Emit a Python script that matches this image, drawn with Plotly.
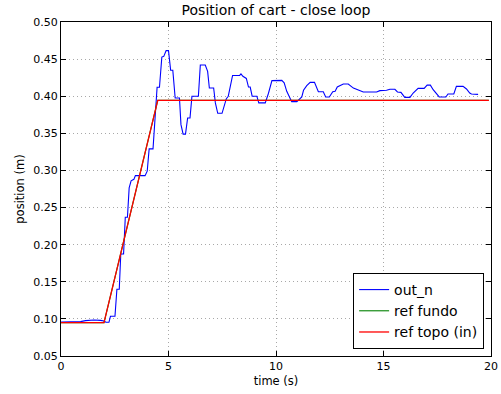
import plotly.graph_objects as go

# measured cart position (out_n)
time_out = [0.0, 0.91, 1.14, 1.53, 1.84, 2.0, 2.09, 2.23, 2.30, 2.51, 2.60, 2.71, 2.78, 2.91,
            2.99, 3.09, 3.17, 3.26, 3.39, 3.46, 3.91, 4.01, 4.10, 4.28, 4.47, 4.58, 4.69, 4.78,
            4.89, 5.0, 5.10, 5.20, 5.31, 5.51, 5.58, 5.68, 5.79, 5.89, 6.0, 6.09, 6.39, 6.48,
            6.71, 6.82, 6.90, 7.10, 7.18, 7.29, 7.49, 7.59, 7.69, 7.78, 7.98, 8.31, 8.37, 8.46,
            8.62, 8.72, 8.80, 8.89, 9.11, 9.20, 9.50, 9.65, 9.81, 10.27, 10.38, 10.50, 10.66,
            10.73, 10.97, 11.2, 11.28, 11.43, 11.59, 11.79, 11.97, 12.20, 12.31, 12.48, 12.64,
            12.75, 12.85, 13.13, 13.36, 13.60, 13.83, 14.06, 14.68, 14.83, 15.14, 15.30, 15.53,
            15.65, 15.81, 15.99, 16.23, 16.38, 16.61, 16.89, 17.03, 17.18, 17.31, 17.46, 17.59,
            17.90, 18.0, 18.27, 18.39, 18.70, 18.86, 19.01, 19.09, 19.40]
pos_out = [0.0958, 0.0963, 0.0976, 0.0985, 0.098, 0.0972, 0.0954, 0.0954, 0.1035, 0.1035,
           0.140, 0.140, 0.1874, 0.1874, 0.237, 0.237, 0.2764, 0.286, 0.288, 0.293, 0.293,
           0.299, 0.329, 0.329, 0.412, 0.412, 0.4528, 0.4537, 0.4614, 0.4614, 0.435, 0.435,
           0.3976, 0.3976, 0.3617, 0.349, 0.349, 0.3707, 0.3707, 0.400, 0.400, 0.442, 0.442,
           0.4335, 0.411, 0.411, 0.391, 0.377, 0.377, 0.386, 0.3967, 0.400, 0.428, 0.428,
           0.430, 0.4268, 0.424, 0.4124, 0.4124, 0.400, 0.400, 0.391, 0.391, 0.404, 0.421,
           0.4214, 0.418, 0.4066, 0.3954, 0.3927, 0.3927, 0.399, 0.408, 0.4142, 0.4187,
           0.4187, 0.4061, 0.4061, 0.399, 0.399, 0.4061, 0.4066, 0.4124, 0.4165, 0.4165,
           0.411, 0.4084, 0.4057, 0.4057, 0.4075, 0.408, 0.4093, 0.4093, 0.4057, 0.4052,
           0.3985, 0.3985, 0.4043, 0.4106, 0.4106, 0.415, 0.415, 0.4088, 0.4043, 0.399,
           0.399, 0.403, 0.403, 0.4133, 0.4133, 0.4097, 0.4043, 0.403, 0.4025]

# top reference (input ramp)
time_ref_topo = [0.0, 2.0, 4.5, 19.9]
pos_ref_topo = [0.095, 0.095, 0.3945, 0.3945]

# bottom reference (same path, drawn beneath the top reference)
time_ref_fundo = [0.0, 2.0, 4.5, 19.9]
pos_ref_fundo = [0.095, 0.095, 0.3945, 0.3945]

x_ticks = [0, 5, 10, 15, 20]
y_ticks = [0.05, 0.10, 0.15, 0.20, 0.25, 0.30, 0.35, 0.40, 0.45, 0.50]

FONT = "DejaVu Sans"

fig = go.Figure()
fig.add_trace(go.Scatter(x=time_out, y=pos_out, mode="lines", name="out_n",
                         line=dict(color="#0000ff", width=1.1)))
fig.add_trace(go.Scatter(x=time_ref_fundo, y=pos_ref_fundo, mode="lines", name="ref fundo",
                         line=dict(color="#008000", width=1.1)))
fig.add_trace(go.Scatter(x=time_ref_topo, y=pos_ref_topo, mode="lines", name="ref topo (in)",
                         line=dict(color="#ff0000", width=1.3)))

axis_common = dict(
    showline=True, linecolor="black", linewidth=1, mirror="ticks",
    ticks="inside", ticklen=5, tickcolor="black", tickwidth=1,
    showgrid=True, gridcolor="#a8a8a8", griddash="1px,3px", gridwidth=1,
    zeroline=False, automargin=False,
    tickfont=dict(family=FONT, size=11, color="black"),
)

fig.update_layout(
    width=501, height=394,
    margin=dict(l=61, r=10, t=22, b=38),
    paper_bgcolor="white", plot_bgcolor="white",
    font=dict(family=FONT, color="black"),
    title=dict(text="Position of cart - close loop", x=0.5, xanchor="center",
               xref="paper", y=1, yref="container", yanchor="top", pad=dict(t=5),
               font=dict(family=FONT, size=14, color="black")),
    xaxis=dict(range=[0, 20], tickvals=x_ticks, ticktext=[str(v) for v in x_ticks],
               title=dict(text="time (s)", font=dict(family=FONT, size=11.5), standoff=4),
               **axis_common),
    yaxis=dict(range=[0.05, 0.50], tickvals=y_ticks, tickformat=".2f",
               title=dict(text="position (m)", font=dict(family=FONT, size=11.5), standoff=6),
               **axis_common),
    legend=dict(x=0.984, y=0.021, xanchor="right", yanchor="bottom",
                bgcolor="white", bordercolor="black", borderwidth=1,
                font=dict(family=FONT, size=14, color="black"),
                tracegroupgap=0, itemwidth=30),
    showlegend=True,
)

fig.write_html("out.html")
